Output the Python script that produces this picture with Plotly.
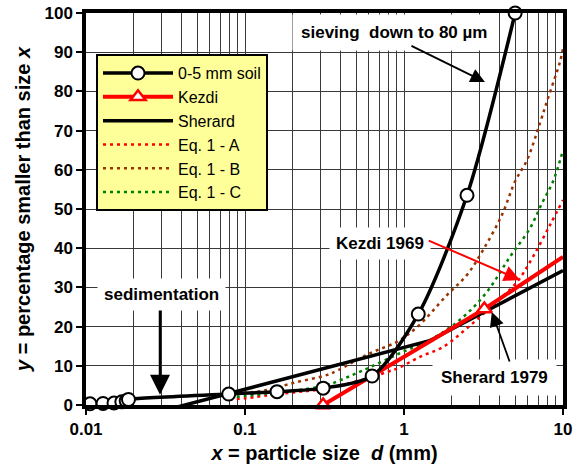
import math
import plotly.graph_objects as go

# ---------------- data ----------------
soil_d = [0.0106, 0.0128, 0.0150, 0.0168, 0.0179, 0.0185, 0.079, 0.159, 0.31, 0.63, 1.23, 2.49, 5.0]
soil_y = [0.3, 0.4, 0.5, 0.8, 1.1, 1.4, 2.8, 3.4, 4.3, 7.4, 23.2, 53.5, 100.0]

kezdi_d = [0.31, 3.2]
kezdi_y = [0.0, 24.5]
kezdi_ext_d = [3.2, 10.0]
kezdi_ext_y = [24.5, 37.8]

sherard_d = [0.029, 1.45, 10.0]
sherard_y = [-1.7, 16.4, 34.3]

eqA_d = [0.08, 0.10, 0.13, 0.20, 0.30, 0.50, 0.78, 0.94, 1.26, 1.76, 2.49, 3.63, 5.14, 6.47, 8.28, 10.0]
eqA_y = [1.4, 1.7, 2.3, 3.2, 4.0, 6.0, 8.4, 9.6, 12.3, 14.8, 19.6, 25.5, 31.4, 37.8, 45.9, 52.3]

eqB_d = [0.08, 0.10, 0.13, 0.20, 0.33, 0.385, 0.61, 0.90, 1.21, 1.86, 2.49, 3.14, 4.13, 4.99, 5.94, 7.16, 8.05, 9.57, 10.0]
eqB_y = [2.6, 3.1, 3.6, 5.6, 7.7, 8.9, 13.2, 16.1, 19.9, 28.0, 33.2, 39.5, 48.5, 57.0, 62.5, 71.9, 78.3, 87.5, 91.0]

eqC_d = [0.08, 0.10, 0.13, 0.20, 0.33, 0.38, 0.55, 0.94, 1.52, 2.35, 3.33, 4.64, 6.2, 7.38, 8.65, 10.0]
eqC_y = [2.0, 2.3, 2.8, 3.6, 5.1, 6.0, 8.8, 13.2, 17.0, 22.4, 28.9, 37.8, 45.1, 51.5, 57.0, 65.0]

x_tick_vals = [0.01, 0.1, 1, 10]
x_tick_text = ["0.01", "0.1", "1", "10"]
y_tick_vals = list(range(0, 101, 10))

FONT = "Arial, Liberation Sans, sans-serif"
L = math.log10

fig = go.Figure()

dot = "3px,4px"
fig.add_trace(go.Scatter(x=eqA_d, y=eqA_y, mode="lines", name="Eq. 1 - A", legendrank=4,
                         line=dict(color="#ff0000", width=2.5, dash=dot, shape="spline")))
fig.add_trace(go.Scatter(x=eqB_d, y=eqB_y, mode="lines", name="Eq. 1 - B", legendrank=5,
                         line=dict(color="#993300", width=2.5, dash=dot, shape="spline")))
fig.add_trace(go.Scatter(x=eqC_d, y=eqC_y, mode="lines", name="Eq. 1 - C", legendrank=6,
                         line=dict(color="#008000", width=2.5, dash=dot, shape="spline")))
fig.add_trace(go.Scatter(x=sherard_d, y=sherard_y, mode="lines", name="Sherard", legendrank=3,
                         line=dict(color="black", width=3.5)))
fig.add_trace(go.Scatter(x=kezdi_ext_d, y=kezdi_ext_y, mode="lines", showlegend=False,
                         line=dict(color="#ff0000", width=4)))
fig.add_trace(go.Scatter(x=kezdi_d, y=kezdi_y, mode="lines+markers", name="Kezdi", legendrank=2,
                         cliponaxis=False,
                         line=dict(color="#ff0000", width=4),
                         marker=dict(symbol="triangle-up", size=13, color="white",
                                     line=dict(color="#ff0000", width=2.5))))
fig.add_trace(go.Scatter(x=soil_d, y=soil_y, mode="lines+markers", name="0-5 mm soil", legendrank=1,
                         cliponaxis=False,
                         line=dict(color="black", width=3.5, shape="spline", smoothing=0.8),
                         marker=dict(symbol="circle", size=13, color="white",
                                     line=dict(color="black", width=2))))

minor_vals = [k * 10 ** e for e in (-2, -1, 0) for k in range(2, 10)]

fig.update_xaxes(type="log", range=[-2, 1], automargin=False,
                 tickmode="array", tickvals=x_tick_vals, ticktext=x_tick_text,
                 ticks="outside", ticklen=6, tickwidth=2, tickcolor="black",
                 showline=True, linecolor="black", linewidth=3.5, mirror=True,
                 showgrid=True, gridcolor="#3a3a3a", gridwidth=1,
                 minor=dict(tickmode="array", tickvals=minor_vals, showgrid=True,
                            gridcolor="#3a3a3a", gridwidth=1, ticks=""),
                 tickfont=dict(family=FONT, size=17, color="black", weight="bold"),
                 title=dict(text="<i>x</i> = particle size&nbsp;&nbsp;<i>d</i> (mm)",
                            font=dict(family=FONT, size=20, color="black", weight="bold"),
                            standoff=9),
                 zeroline=False)
fig.update_yaxes(range=[0, 100], tickmode="array", tickvals=y_tick_vals, automargin=False,
                 ticks="outside", ticklen=6, tickwidth=2, tickcolor="black",
                 showline=True, linecolor="black", linewidth=3.5, mirror=True,
                 showgrid=True, gridcolor="#3a3a3a", gridwidth=1,
                 tickfont=dict(family=FONT, size=17, color="black", weight="bold"),
                 title=dict(text="<i>y</i> = percentage smaller than size <i>x</i>",
                            font=dict(family=FONT, size=20, color="black", weight="bold"),
                            standoff=9),
                 zeroline=False)

afont = dict(family=FONT, size=17, color="black", weight="bold")

# text boxes
fig.add_annotation(x=L(0.86), y=94.9, text="sieving&nbsp;&nbsp;down to 80 \u00b5m", showarrow=False,
                   font=afont, bgcolor="white", borderpad=8)
fig.add_annotation(x=L(0.71), y=41.3, text="Kezdi 1969", showarrow=False,
                   font=afont, bgcolor="white", borderpad=6)
fig.add_annotation(x=L(3.73), y=6.9, text="Sherard 1979", showarrow=False,
                   font=afont, bgcolor="white", borderpad=8)
fig.add_annotation(x=L(0.030), y=28.2, text="sedimentation", showarrow=False,
                   font=afont, bgcolor="white", borderpad=6)

# arrows
def arrow(hx, hy, tx, ty, color, width=1.8):
    fig.add_annotation(x=L(hx), y=hy, ax=L(tx), ay=ty, xref="x", yref="y", axref="x", ayref="y",
                       text="", showarrow=True, arrowhead=2, arrowsize=1.6, arrowwidth=width,
                       arrowcolor=color)

arrow(3.23, 82.4, 1.09, 91.8, "black")
arrow(5.37, 31.9, 1.40, 42.1, "#ff0000", 2)
arrow(3.57, 23.7, 4.65, 10.7, "black")
arrow(0.0292, 2.6, 0.0292, 24.5, "black", 2.5)

fig.update_layout(
    width=579, height=467,
    margin=dict(l=86, r=16, t=13, b=62, autoexpand=False),
    paper_bgcolor="white", plot_bgcolor="white",
    font=dict(family=FONT, color="black"),
    legend=dict(x=0.021, y=0.895, xanchor="left", yanchor="top",
                bgcolor="#ffff99", bordercolor="black", borderwidth=2,
                font=dict(family=FONT, size=16, color="black"),
                itemwidth=70, tracegroupgap=0, traceorder="normal"),
    showlegend=True,
)

fig.write_html("out.html")
